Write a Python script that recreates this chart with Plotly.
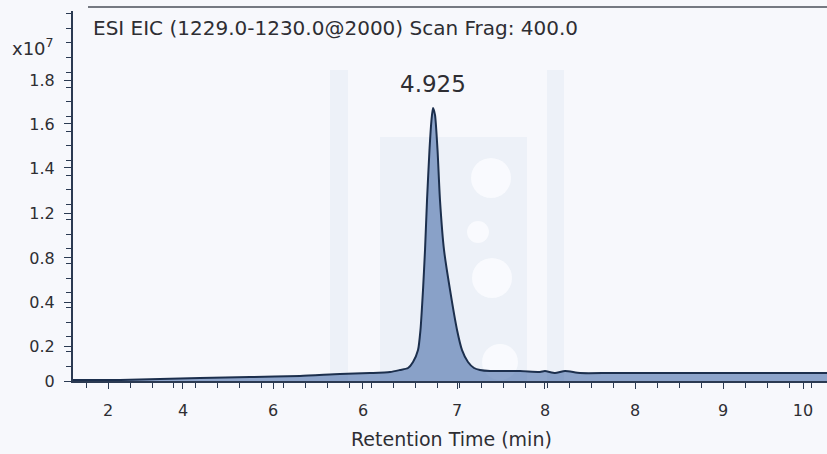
import plotly.graph_objects as go

# Retention time (axis units) and intensity (axis units, x10^7 scale as drawn)
rt = [1.60, 2.137, 2.594, 3.051, 3.623, 4.194, 4.651, 4.994, 5.223, 5.337, 5.429, 5.486,
      5.543, 5.571, 5.600, 5.623, 5.646, 5.674, 5.697, 5.714, 5.737, 5.766, 5.794, 5.840,
      5.909, 5.989, 6.046, 6.114, 6.183, 6.251, 6.366, 6.709, 6.937, 6.994, 7.109, 7.223,
      7.394, 7.737, 8.194, 8.766, 9.680, 10.217]
intensity = [0.0045, 0.0045, 0.009, 0.0136, 0.018, 0.0226, 0.0317, 0.0362, 0.0407, 0.0498, 0.0588, 0.086,
             0.140, 0.231, 0.412, 0.593, 0.819, 1.045, 1.181, 1.235, 1.204, 1.045, 0.819, 0.593,
             0.412, 0.231, 0.140, 0.086, 0.0588, 0.0498, 0.045, 0.045, 0.041, 0.045, 0.036, 0.045,
             0.036, 0.036, 0.036, 0.036, 0.036, 0.036]

x_tickvals = [2.0, 2.857, 3.886, 4.914, 5.989, 6.994, 8.023, 9.029, 9.943]
x_ticktext = ["2", "4", "6", "6", "7", "8", "8", "9", "10"]
y_tickvals = [0.0, 0.158, 0.357, 0.557, 0.76, 0.964, 1.163, 1.362]
y_ticktext = ["0", "0.2", "0.4", "0.8", "1.2", "1.4", "1.6", "1.8"]

peak_label = "4.925"
title_text = "ESI EIC (1229.0-1230.0@2000) Scan Frag: 400.0"
x_title = "Retention Time (min)"

W, H = 827, 454
L, R, T, B = 73, 0, 11, 73
PW, PH = W - L - R, H - T - B


def px(xp):
    return (xp - L) / PW


def py(yp):
    return (H - B - yp) / PH


font_fam = "'DejaVu Sans', Verdana, sans-serif"
axis_col = "#2b3a52"
text_col = "#2e2e33"

fig = go.Figure()
fig.add_trace(go.Scatter(
    x=rt, y=intensity, mode="lines",
    line=dict(color="#1c2f4d", width=2, shape="spline", smoothing=0.6),
    fill="tozeroy", fillcolor="rgba(70,108,168,0.6)",
    hoverinfo="skip", showlegend=False,
))

shapes = []
# faint watermark blocks behind the chart
for x0, x1, y0 in [(330, 348, 70), (380, 527, 137), (547, 564, 70)]:
    shapes.append(dict(type="rect", xref="paper", yref="paper",
                       x0=px(x0), x1=px(x1), y0=py(381), y1=py(y0),
                       fillcolor="rgba(205,218,236,0.22)", line=dict(width=0), layer="below"))
for cx, cy, r in [(491, 178, 20), (478, 232, 11), (492, 278, 20), (500, 362, 18)]:
    shapes.append(dict(type="circle", xref="paper", yref="paper",
                       x0=px(cx - r), x1=px(cx + r), y0=py(cy + r), y1=py(cy - r),
                       fillcolor="rgba(250,251,254,0.9)", line=dict(width=0), layer="below"))
# top frame line
shapes.append(dict(type="line", xref="paper", yref="paper",
                   x0=px(88), x1=1.0, y0=py(7), y1=py(7),
                   line=dict(color="#4a4f5a", width=1.5)))

fig.update_layout(
    width=W, height=H,
    margin=dict(l=L, r=R, t=T, b=B),
    paper_bgcolor="#f7f8fc", plot_bgcolor="rgba(0,0,0,0)",
    font=dict(family=font_fam, color=text_col, size=16),
    shapes=shapes,
    annotations=[
        dict(text=title_text, xref="paper", yref="paper", x=px(91), y=py(28),
             xanchor="left", yanchor="middle", showarrow=False,
             font=dict(size=20, color=text_col, family=font_fam)),
        dict(text="x10<sup>7</sup>", xref="paper", yref="paper", x=px(33), y=py(47),
             xanchor="center", yanchor="middle", showarrow=False,
             font=dict(size=18, color=text_col, family=font_fam)),
        dict(text=peak_label, x=5.714, y=1.235, xref="x", yref="y",
             yshift=24, showarrow=False,
             font=dict(size=23, color=text_col, family=font_fam)),
        dict(text=x_title, xref="paper", yref="paper", x=px(451), y=py(439),
             xanchor="center", yanchor="middle", showarrow=False,
             font=dict(size=19, color=text_col, family=font_fam)),
    ],
    xaxis=dict(
        range=[1.6, 10.217], showgrid=False, zeroline=False,
        showline=True, linecolor=axis_col, linewidth=2,
        tickmode="array", tickvals=x_tickvals, ticktext=x_ticktext,
        ticks="outside", ticklen=6, tickcolor=axis_col, tickwidth=1,
        ticklabelstandoff=8, tickfont=dict(size=16, color=text_col),
        minor=dict(tickmode="linear", tick0=2.0, dtick=0.2514, ticks="outside",
                   ticklen=5, tickcolor=axis_col, tickwidth=1),
    ),
    yaxis=dict(
        range=[0, 1.6742], showgrid=False, zeroline=False,
        showline=True, linecolor=axis_col, linewidth=2,
        tickmode="array", tickvals=y_tickvals, ticktext=y_ticktext,
        ticks="outside", ticklen=7, tickcolor=axis_col, tickwidth=1,
        ticklabelstandoff=6, tickfont=dict(size=16, color=text_col),
        minor=dict(tickmode="linear", tick0=0.0, dtick=0.0665, ticks="outside",
                   ticklen=5, tickcolor=axis_col, tickwidth=1),
    ),
)

fig.write_html("out.html", config={"displayModeBar": False, "staticPlot": True},
               post_script="document.body.style.margin='0';document.body.style.background='#f7f8fc';")
